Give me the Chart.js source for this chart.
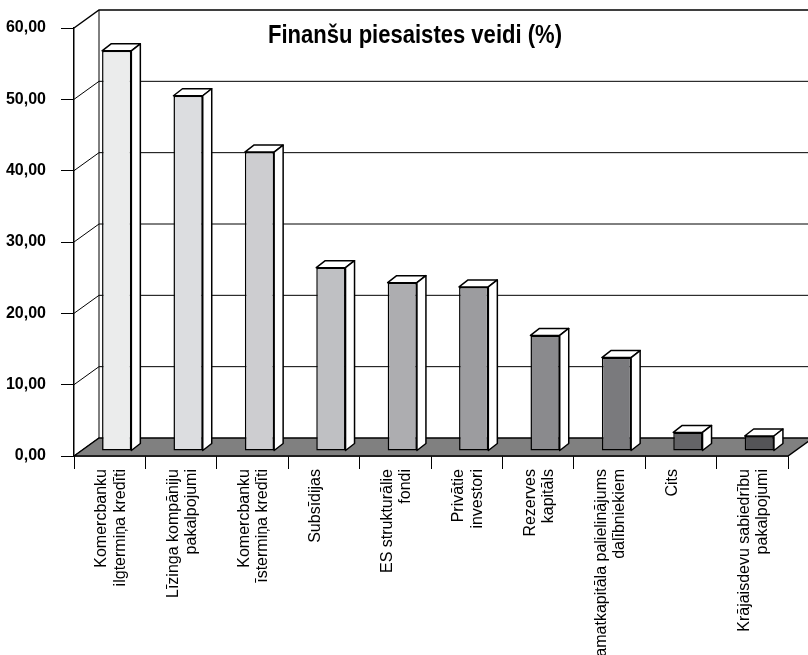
<!DOCTYPE html>
<html>
<head>
<meta charset="utf-8">
<script src="https://cdn.jsdelivr.net/npm/chart.js@4.4.1/dist/chart.umd.min.js"></script>
<style>
  html, body { margin: 0; padding: 0; background: #fff; }
  #wrap { width: 808px; height: 655px; }
</style>
</head>
<body>
<div id="wrap"><canvas id="chart" width="808" height="655"></canvas></div>
<script>
const categories = [
  ['Komercbanku', 'ilgtermiņa kredīti'],
  ['Līzinga kompāniju', 'pakalpojumi'],
  ['Komercbanku', 'īstermiņa kredīti'],
  'Subsīdijas',
  ['ES strukturālie', 'fondi'],
  ['Privātie', 'investori'],
  ['Rezerves', 'kapitāls'],
  ['Pamatkapitāla palielinājums', 'dalībniekiem'],
  'Cits',
  ['Krājaisdevu sabiedrību', 'pakalpojumi']
];
const shares = [56.1, 49.8, 41.9, 25.7, 23.6, 23.0, 16.2, 13.1, 2.6, 2.1];
const barColors = ['#ebecec', '#dcdde0', '#cdcdd0', '#bfc0c3', '#adadb0', '#9c9c9f', '#8a8a8d', '#7a7a7d', '#646467', '#545457'];
const yTicks = [0, 10, 20, 30, 40, 50, 60];
const title = 'Finanšu piesaistes veidi (%)';

const SANS = '"Liberation Sans", Arial, sans-serif';

// depth of the back wall, and of the bars inside the box
const wall = { dx: 25, dy: 18 };
const barShift = { dx: 7, dy: 5 };
const barDepth = { dx: 9, dy: 7 };

const box3d = {
  id: 'box3d',
  beforeDatasetsDraw (chart) {
    const { ctx, chartArea: area, scales: { y } } = chart;
    ctx.save();
    ctx.strokeStyle = '#000';

    // left wall diagonals and back wall gridlines
    yTicks.forEach(v => {
      const py = y.getPixelForValue(v);
      ctx.lineWidth = v === 60 ? 1.5 : 1;
      ctx.beginPath();
      ctx.moveTo(area.left, py);
      ctx.lineTo(area.left + wall.dx, py - wall.dy);
      if (v !== 0) ctx.lineTo(area.right + wall.dx, py - wall.dy);
      ctx.stroke();
    });
    ctx.lineWidth = 1;
    ctx.beginPath();
    ctx.moveTo(area.left + wall.dx, y.getPixelForValue(60) - wall.dy);
    ctx.lineTo(area.left + wall.dx, area.bottom - wall.dy);
    ctx.stroke();

    // floor
    ctx.fillStyle = '#808080';
    ctx.lineWidth = 1.5;
    ctx.beginPath();
    ctx.moveTo(area.left, area.bottom);
    ctx.lineTo(area.left + wall.dx, area.bottom - wall.dy);
    ctx.lineTo(area.right + wall.dx, area.bottom - wall.dy);
    ctx.lineTo(area.right, area.bottom);
    ctx.closePath();
    ctx.fill();
    ctx.stroke();

    // title on the back wall, squeezed to the condensed width of the original
    ctx.fillStyle = '#000';
    ctx.font = 'bold 25px ' + SANS;
    ctx.textAlign = 'left';
    ctx.textBaseline = 'alphabetic';
    const w = ctx.measureText(title).width;
    const squeeze = 294 / w;
    ctx.translate(268, 43);
    ctx.scale(squeeze, 1);
    ctx.fillText(title, 0, 0);
    ctx.restore();

    ctx.save();
    ctx.translate(barShift.dx, -barShift.dy);
  },
  afterDatasetsDraw (chart) {
    const { ctx } = chart;
    const meta = chart.getDatasetMeta(0);
    ctx.fillStyle = '#fff';
    ctx.strokeStyle = '#000';
    ctx.lineWidth = 1.5;
    ctx.lineJoin = 'round';
    meta.data.forEach(bar => {
      const { x, y, base, width } = bar.getProps(['x', 'y', 'base', 'width'], true);
      const l = x - width / 2;
      const r = x + width / 2;
      ctx.beginPath();
      ctx.moveTo(l, y);
      ctx.lineTo(l + barDepth.dx, y - barDepth.dy);
      ctx.lineTo(r + barDepth.dx, y - barDepth.dy);
      ctx.lineTo(r, y);
      ctx.closePath();
      ctx.fill();
      ctx.stroke();
      ctx.beginPath();
      ctx.moveTo(r, y);
      ctx.lineTo(r + barDepth.dx, y - barDepth.dy);
      ctx.lineTo(r + barDepth.dx, base - barDepth.dy);
      ctx.lineTo(r, base);
      ctx.closePath();
      ctx.fill();
      ctx.stroke();
    });
    ctx.restore();
  }
};

// eslint-disable-next-line no-undef
const chart = new Chart('chart', {
  type: 'bar',
  data: {
    labels: categories,
    datasets: [{
      data: shares,
      backgroundColor: barColors,
      borderColor: '#000',
      borderWidth: 1.5,
      borderSkipped: false,
      categoryPercentage: 1,
      barPercentage: 0.41
    }]
  },
  options: {
    responsive: false,
    animation: false,
    events: [],
    layout: { padding: { top: 28, right: 20, left: 0, bottom: 0 } },
    plugins: {
      legend: { display: false },
      tooltip: { enabled: false },
      title: { display: false }
    },
    scales: {
      x: {
        afterFit: scale => { scale.height = 199; },
        grid: { drawOnChartArea: false, drawTicks: true, tickLength: 13, color: '#000', lineWidth: 1 },
        border: { display: true, color: '#000', width: 1.5 },
        ticks: {
          autoSkip: false,
          minRotation: 90,
          maxRotation: 90,
          padding: 0,
          labelOffset: -8,
          color: '#000',
          font: { family: SANS, size: 16, lineHeight: 1.15 }
        }
      },
      y: {
        min: 0,
        max: 60,
        afterFit: scale => { scale.width = 74; },
        grid: { drawOnChartArea: false, drawTicks: true, tickLength: 13, color: '#000', lineWidth: 1 },
        border: { display: true, color: '#000', width: 1.5 },
        ticks: {
          stepSize: 10,
          padding: 15,
          color: '#000',
          font: { family: SANS, size: 16, weight: 'bold' },
          callback: value => value.toFixed(2).replace('.', ',')
        }
      }
    }
  },
  plugins: [box3d]
});
</script>
</body>
</html>
